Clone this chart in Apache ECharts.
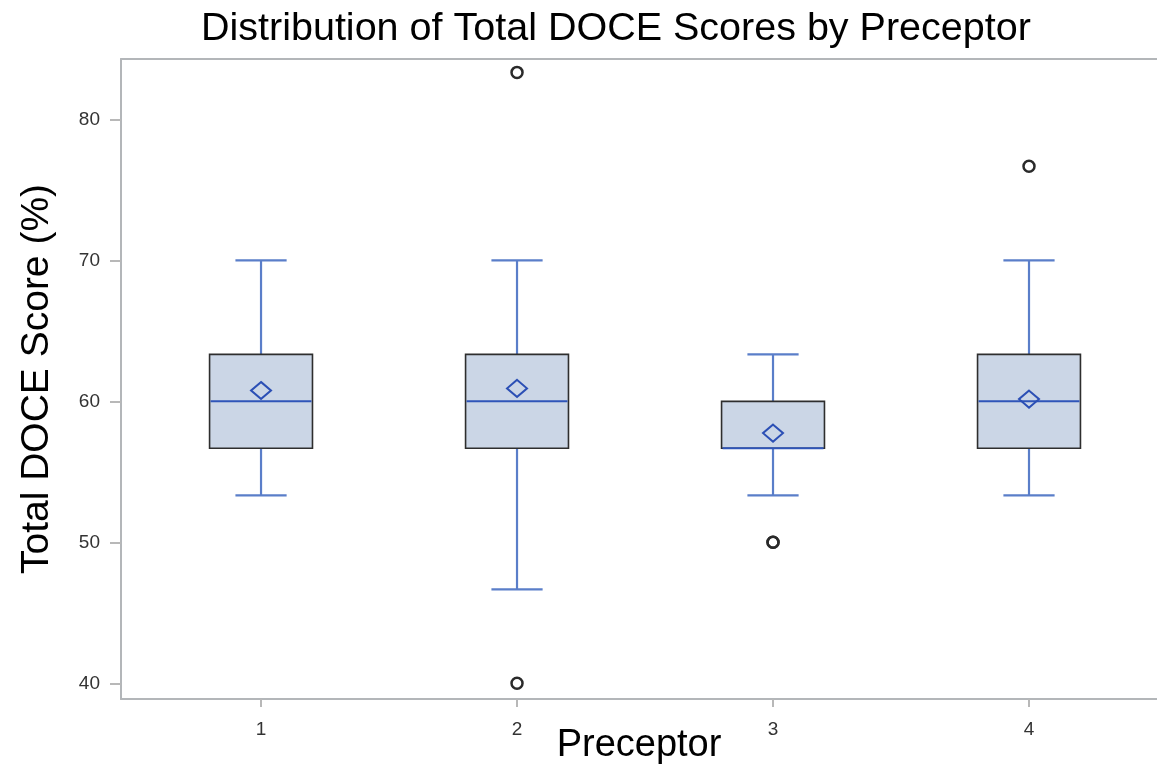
<!DOCTYPE html>
<html>
<head>
<meta charset="utf-8">
<script src="https://cdn.jsdelivr.net/npm/echarts@6/dist/echarts.min.js"></script>
<style>
  html, body { margin: 0; padding: 0; background: #fff; }
  #chart { width: 1157px; height: 768px; }
</style>
</head>
<body>
<div id="chart"></div>
<script>
// preceptor groups and box statistics
const preceptors = [1, 2, 3, 4]
const whiskerLow = [53.33, 46.67, 53.33, 53.33]
const q1 = [56.67, 56.67, 56.67, 56.67]
const median = [60, 60, 56.67, 60]
const q3 = [63.33, 63.33, 60, 63.33]
const whiskerHigh = [70, 70, 63.33, 70]
const means = [60.77, 60.92, 57.75, 60.16]
const outlierGroup = [2, 2, 3, 3, 4]
const outlierValue = [83.33, 40, 50, 50, 76.67]
const yTicks = [40, 50, 60, 70, 80]

const font = '"Liberation Sans", Arial, sans-serif'
const frameColor = '#b3b6b9'

const boxData = preceptors.map((p, i) => [p, whiskerLow[i], q1[i], median[i], q3[i], whiskerHigh[i]])
const meanData = preceptors.map((p, i) => [p, means[i]])
const outlierData = outlierGroup.map((p, i) => [p, outlierValue[i]])

const renderBox = (params, api) => {
  const x = api.value(0)
  const low = api.coord([x, api.value(1)])
  const b1 = api.coord([x, api.value(2)])
  const mid = api.coord([x, api.value(3)])
  const b3 = api.coord([x, api.value(4)])
  const high = api.coord([x, api.value(5)])
  const boxW = api.size([0.402, 0])[0]
  const capW = api.size([0.2, 0])[0]
  const cx = low[0]
  const whisker = { stroke: '#5a7ec9', lineWidth: 2.2 }
  return {
    type: 'group',
    children: [
      { type: 'line', shape: { x1: cx, y1: low[1], x2: cx, y2: b1[1] }, style: whisker },
      { type: 'line', shape: { x1: cx, y1: b3[1], x2: cx, y2: high[1] }, style: whisker },
      { type: 'line', shape: { x1: cx - capW / 2, y1: low[1], x2: cx + capW / 2, y2: low[1] }, style: whisker },
      { type: 'line', shape: { x1: cx - capW / 2, y1: high[1], x2: cx + capW / 2, y2: high[1] }, style: whisker },
      {
        type: 'rect',
        shape: { x: cx - boxW / 2, y: b3[1], width: boxW, height: b1[1] - b3[1] },
        style: { fill: '#cbd6e6', stroke: '#2e2e2e', lineWidth: 1.6 }
      },
      {
        type: 'line',
        shape: { x1: cx - boxW / 2 + 1, y1: mid[1], x2: cx + boxW / 2 - 1, y2: mid[1] },
        style: { stroke: '#2f55b9', lineWidth: 2 }
      }
    ]
  }
}

const chart = echarts.init(document.getElementById('chart'))

const option = {
  animation: false,
  backgroundColor: '#fff',
  title: {
    text: 'Distribution of Total DOCE Scores by Preceptor',
    left: 196,
    top: 4,
    textStyle: { fontFamily: font, fontSize: 39.5, fontWeight: 'normal', color: '#000' }
  },
  grid: { left: 121, right: 0, top: 59, bottom: 69, outerBoundsMode: 'none' },
  xAxis: [
    {
      type: 'value',
      min: 0.453,
      max: 4.5,
      name: 'Preceptor',
      nameLocation: 'middle',
      nameGap: 28,
      nameMoveOverlap: false,
      nameTextStyle: { fontFamily: font, fontSize: 38, color: '#000' },
      axisLine: { show: true, onZero: false, lineStyle: { color: frameColor, width: 2 } },
      axisTick: { show: true, length: 8, customValues: preceptors, lineStyle: { color: '#b8b8b8', width: 2 } },
      axisLabel: { customValues: preceptors, margin: 21, fontFamily: font, fontSize: 19, color: '#333' },
      splitLine: { show: false }
    },
    {
      type: 'value',
      position: 'top',
      min: 0.453,
      max: 4.5,
      axisLine: { show: true, onZero: false, lineStyle: { color: frameColor, width: 2 } },
      axisTick: { show: false },
      axisLabel: { show: false },
      splitLine: { show: false }
    }
  ],
  yAxis: {
    type: 'value',
    min: 38.89,
    max: 84.28,
    name: 'Total DOCE Score (%)',
    nameLocation: 'middle',
    nameGap: 64,
    nameMoveOverlap: false,
    nameTextStyle: { fontFamily: font, fontSize: 39, color: '#000' },
    axisLine: { show: true, onZero: false, lineStyle: { color: frameColor, width: 2 } },
    axisTick: { show: true, length: 11, customValues: yTicks, lineStyle: { color: '#b8b8b8', width: 2 } },
    axisLabel: { customValues: yTicks, margin: 21, fontFamily: font, fontSize: 19, color: '#333' },
    splitLine: { show: false }
  },
  series: [
    {
      type: 'custom',
      renderItem: renderBox,
      encode: { x: 0, y: [1, 2, 3, 4, 5] },
      data: boxData,
      z: 2
    },
    {
      type: 'scatter',
      data: meanData,
      symbol: 'diamond',
      symbolSize: [20, 17],
      itemStyle: { color: 'rgba(0,0,0,0)', borderColor: '#2b4fb5', borderWidth: 2, opacity: 1 },
      z: 3
    },
    {
      type: 'scatter',
      data: outlierData,
      symbol: 'circle',
      symbolSize: 11,
      itemStyle: { color: 'rgba(0,0,0,0)', borderColor: '#2a2a2a', borderWidth: 2.5, opacity: 1 },
      z: 3
    }
  ]
}

chart.setOption(option)
</script>
</body>
</html>
